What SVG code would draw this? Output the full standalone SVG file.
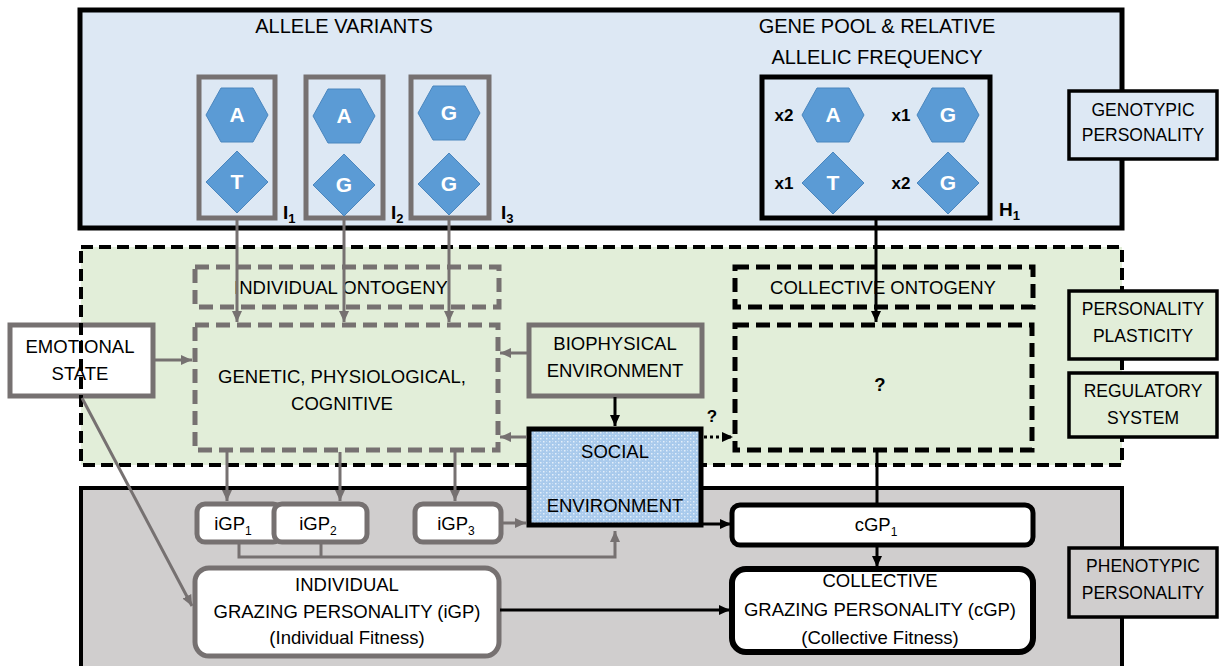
<svg xmlns="http://www.w3.org/2000/svg" width="1222" height="666" viewBox="0 0 1222 666">
  <style>
    text { font-family: "Liberation Sans", Arial, sans-serif; fill: #000; text-anchor: middle; }
    .t { font-size: 18.5px; }
    .title { font-size: 20px; }
    .lbl { font-size: 17.5px; }
    .bold { font-weight: bold; font-size: 17px; }
    .sub { font-weight: bold; font-size: 19px; text-anchor: start; }
    .al { fill: #fff; font-weight: bold; font-size: 21px; }
    .allele { fill: #5B9BD5; stroke: #4A86BE; stroke-width: 1; }
    .gbox { fill: none; stroke: #767171; stroke-width: 5; }
    .kbox { fill: none; stroke: #000; stroke-width: 5; }
    .gdash { fill: none; stroke: #767171; stroke-width: 5; stroke-dasharray: 14 7; }
    .kdash { fill: none; stroke: #000; stroke-width: 5; stroke-dasharray: 14 7; }
    .side { stroke: #000; stroke-width: 3.5; }
    .cg { fill: none; stroke: #767171; stroke-width: 3; }
    .ck { fill: none; stroke: #000; stroke-width: 3; }
    .wr { fill: #fff; }
  </style>
  <defs>
    <polygon id="hex" points="-31,0 -16,-27 16,-27 31,0 16,27 -16,27"/>
    <polygon id="dia" points="0,-31 31,0 0,31 -31,0"/>
    <marker id="ag" markerUnits="userSpaceOnUse" markerWidth="11" markerHeight="10" refX="11" refY="5" orient="auto">
      <path d="M0,0 L11,5 L0,10 z" fill="#767171"/>
    </marker>
    <marker id="ak" markerUnits="userSpaceOnUse" markerWidth="11" markerHeight="10" refX="11" refY="5" orient="auto">
      <path d="M0,0 L11,5 L0,10 z" fill="#000"/>
    </marker>
    <pattern id="dots" width="6" height="6" patternUnits="userSpaceOnUse">
      <rect width="6" height="6" fill="#A9CAEC"/>
      <rect x="0" y="0" width="1.5" height="1.5" fill="#E4EFFA"/>
      <rect x="3" y="3" width="1.5" height="1.5" fill="#E4EFFA"/>
      <rect x="3" y="0" width="1" height="1" fill="#C6DCF3"/>
      <rect x="0" y="3" width="1" height="1" fill="#C6DCF3"/>
    </pattern>
  </defs>

  <!-- layer bands -->
  <g id="band-genotypic">
    <rect x="80" y="10" width="1042" height="218" fill="#DDE8F4" stroke="#000" stroke-width="5"/>
  </g>
  <rect id="band-plasticity-fill" x="81" y="247" width="1041" height="218" fill="#E2EED9"/>
  <g id="band-phenotypic">
    <rect x="81" y="488" width="1041" height="200" fill="#D0CECE" stroke="#000" stroke-width="4"/>
  </g>

  <g id="emotional-state">
    <rect x="10" y="325" width="143" height="71" fill="#fff" stroke="#767171" stroke-width="5"/>
    <text class="t" x="80" y="353">EMOTIONAL</text>
    <text class="t" x="80" y="380">STATE</text>
  </g>

  <rect id="band-plasticity-border" x="81" y="247" width="1041" height="218" fill="none" stroke="#000" stroke-width="4" stroke-dasharray="12 6"/>

  <!-- genotype level -->
  <g id="titles">
    <text class="title" x="344" y="33">ALLELE VARIANTS</text>
    <text class="title" x="877" y="33">GENE POOL &amp; RELATIVE</text>
    <text class="title" x="877" y="64">ALLELIC FREQUENCY</text>
  </g>

  <g id="individual-1">
    <rect class="gbox" x="199" y="77" width="76" height="141"/>
    <use href="#hex" x="237" y="115" class="allele"/>
    <use href="#dia" x="237" y="182" class="allele"/>
    <text class="al" x="237" y="122">A</text>
    <text class="al" x="237" y="189">T</text>
    <text class="sub" x="283" y="219">I<tspan font-size="13" dy="4">1</tspan></text>
  </g>
  <g id="individual-2">
    <rect class="gbox" x="306" y="77" width="77" height="141"/>
    <use href="#hex" x="344" y="116" class="allele"/>
    <use href="#dia" x="344" y="185" class="allele"/>
    <text class="al" x="344" y="123">A</text>
    <text class="al" x="344" y="192">G</text>
    <text class="sub" x="391" y="219">I<tspan font-size="13" dy="4">2</tspan></text>
  </g>
  <g id="individual-3">
    <rect class="gbox" x="411" y="77" width="78" height="141"/>
    <use href="#hex" x="449" y="113" class="allele"/>
    <use href="#dia" x="449" y="184" class="allele"/>
    <text class="al" x="449" y="120">G</text>
    <text class="al" x="449" y="191">G</text>
    <text class="sub" x="501" y="219">I<tspan font-size="13" dy="4">3</tspan></text>
  </g>

  <g id="gene-pool">
    <rect class="kbox" x="762" y="77" width="228" height="141"/>
    <use href="#hex" x="833" y="115" class="allele"/>
    <use href="#hex" x="948" y="115" class="allele"/>
    <use href="#dia" x="833" y="183" class="allele"/>
    <use href="#dia" x="948" y="183" class="allele"/>
    <text class="al" x="833" y="122">A</text>
    <text class="al" x="948" y="122">G</text>
    <text class="al" x="833" y="190">T</text>
    <text class="al" x="948" y="190">G</text>
    <text class="bold" x="784" y="121">x2</text>
    <text class="bold" x="901" y="121">x1</text>
    <text class="bold" x="784" y="189">x1</text>
    <text class="bold" x="901" y="189">x2</text>
    <text class="sub" x="999" y="216">H<tspan font-size="13" dy="4">1</tspan></text>
  </g>

  <!-- plasticity level -->
  <g id="individual-ontogeny">
    <rect class="gdash" x="195" y="267" width="304" height="40"/>
    <text class="t" x="341" y="294">INDIVIDUAL ONTOGENY</text>
  </g>
  <g id="genetic-physiological-cognitive">
    <rect class="gdash" x="195" y="325" width="303" height="125"/>
    <text class="t" x="342" y="383">GENETIC, PHYSIOLOGICAL,</text>
    <text class="t" x="342" y="410">COGNITIVE</text>
  </g>
  <g id="biophysical-environment">
    <rect x="529" y="325" width="173" height="71" fill="#E2EED9" stroke="#767171" stroke-width="5"/>
    <text class="t" x="615" y="350">BIOPHYSICAL</text>
    <text class="t" x="615" y="377">ENVIRONMENT</text>
  </g>
  <g id="collective-ontogeny">
    <rect class="kdash" x="735" y="267" width="298" height="40"/>
    <text class="t" x="883" y="294">COLLECTIVE ONTOGENY</text>
  </g>
  <g id="collective-unknown">
    <rect class="kdash" x="735" y="325" width="297" height="125"/>
    <text class="t" x="880" y="391" font-weight="bold">?</text>
  </g>

  <!-- phenotype level -->
  <g id="igp-1">
    <rect class="wr" x="197" y="504" width="84" height="38" rx="8" stroke="#767171" stroke-width="5"/>
    <text class="t" x="233" y="530">iGP<tspan font-size="12" dy="5">1</tspan></text>
  </g>
  <g id="igp-2">
    <rect class="wr" x="274" y="504" width="93" height="38" rx="8" stroke="#767171" stroke-width="5"/>
    <text class="t" x="318" y="530">iGP<tspan font-size="12" dy="5">2</tspan></text>
  </g>
  <g id="igp-3">
    <rect class="wr" x="415" y="504" width="86" height="38" rx="8" stroke="#767171" stroke-width="5"/>
    <text class="t" x="456" y="530">iGP<tspan font-size="12" dy="5">3</tspan></text>
  </g>
  <g id="individual-grazing-personality">
    <rect class="wr" x="195" y="568" width="304" height="88" rx="14" stroke="#767171" stroke-width="5"/>
    <text class="t" x="347" y="591">INDIVIDUAL</text>
    <text class="t" x="347" y="618">GRAZING PERSONALITY (iGP)</text>
    <text class="t" x="347" y="644">(Individual Fitness)</text>
  </g>
  <g id="cgp-1">
    <rect class="wr" x="732" y="505" width="301" height="40" rx="8" stroke="#000" stroke-width="5"/>
    <text class="t" x="876" y="531">cGP<tspan font-size="12" dy="5">1</tspan></text>
  </g>
  <g id="collective-grazing-personality">
    <rect class="wr" x="732" y="569" width="301" height="83" rx="14" stroke="#000" stroke-width="6"/>
    <text class="t" x="880" y="587">COLLECTIVE</text>
    <text class="t" x="880" y="616">GRAZING PERSONALITY (cGP)</text>
    <text class="t" x="880" y="644">(Collective Fitness)</text>
  </g>

  <g id="social-environment">
    <rect x="529" y="429" width="172" height="96" fill="url(#dots)" stroke="#000" stroke-width="5"/>
    <text class="t" x="615" y="458">SOCIAL</text>
    <text class="t" x="615" y="512">ENVIRONMENT</text>
  </g>

  <!-- level labels -->
  <g id="label-genotypic">
    <rect class="side" x="1069" y="91" width="148" height="68" fill="#DDE8F4"/>
    <text class="lbl" x="1143" y="116">GENOTYPIC</text>
    <text class="lbl" x="1143" y="141">PERSONALITY</text>
  </g>
  <g id="label-plasticity">
    <rect class="side" x="1069" y="291" width="148" height="68" fill="#E2EED9"/>
    <text class="lbl" x="1143" y="315">PERSONALITY</text>
    <text class="lbl" x="1143" y="342">PLASTICITY</text>
  </g>
  <g id="label-regulatory">
    <rect class="side" x="1069" y="373" width="148" height="64" fill="#E2EED9"/>
    <text class="lbl" x="1143" y="397">REGULATORY</text>
    <text class="lbl" x="1143" y="424">SYSTEM</text>
  </g>
  <g id="label-phenotypic">
    <rect class="side" x="1069" y="548" width="148" height="69" fill="#D0CECE"/>
    <text class="lbl" x="1143" y="572">PHENOTYPIC</text>
    <text class="lbl" x="1143" y="599">PERSONALITY</text>
  </g>

  <!-- connectors -->
  <g id="connectors">
    <path class="cg" d="M237,220 V322" marker-end="url(#ag)"/>
    <path class="cg" d="M344,220 V322" marker-end="url(#ag)"/>
    <path class="cg" d="M449,220 V322" marker-end="url(#ag)"/>
    <path class="cg" d="M155,360 H192" marker-end="url(#ag)"/>
    <path class="cg" d="M527,353 H500" marker-end="url(#ag)"/>
    <path class="cg" d="M527,437 H500" marker-end="url(#ag)"/>
    <path class="cg" d="M227,452 V501" marker-end="url(#ag)"/>
    <path class="cg" d="M340,452 V501" marker-end="url(#ag)"/>
    <path class="cg" d="M455,452 V501" marker-end="url(#ag)"/>
    <path class="cg" d="M503,523 H526" marker-end="url(#ag)"/>
    <path class="cg" d="M239,544 V557 H615 V531" marker-end="url(#ag)"/>
    <path class="cg" d="M321,544 V557"/>
    <path class="cg" d="M82,398 L192,606" marker-end="url(#ag)"/>
    <path class="ck" d="M876,220 V322" marker-end="url(#ak)"/>
    <path class="ck" d="M615,397 V426" marker-end="url(#ak)"/>
    <path class="ck" d="M703,524 H731" marker-end="url(#ak)"/>
    <path class="ck" d="M877,452 V503"/>
    <path class="ck" d="M877,547 V567" marker-end="url(#ak)"/>
    <path class="ck" d="M500,610 H730" marker-end="url(#ak)"/>
    <path class="ck" d="M704,437 H733" stroke-dasharray="3 3" marker-end="url(#ak)"/>
    <text class="bold" x="712" y="422">?</text>
  </g>
</svg>
